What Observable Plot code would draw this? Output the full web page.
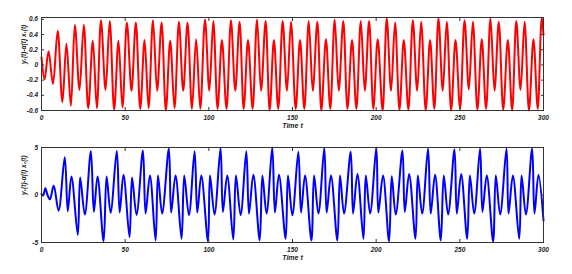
<!DOCTYPE html>
<html><head><meta charset="utf-8">
<script src="https://cdn.jsdelivr.net/npm/d3@7"></script>
<script src="https://cdn.jsdelivr.net/npm/@observablehq/plot@0.6"></script>
<style>
html,body{margin:0;padding:0;background:#fff;}
#chart svg{display:block;}
</style></head><body><div id="chart"></div>
<script>
const xTicks = [0, 50, 100, 150, 200, 250, 300];
const xLabel = "Time t";
const y1Ticks = [-0.6, -0.4, -0.2, 0, 0.2, 0.4, 0.6];
const y2Ticks = [-5, 0, 5];
const y1Label = "y\u2081(t)-\u03b1(t) x\u2081(t)";
const y2Label = "y\u2082(t)-\u03b1(t) x\u2082(t)";

// red series: [time, value] at turning points
const redSeries = [
[0,0.10],[1.8,-0.19],[4.2,0.18],[6.9,-0.25],[9.7,0.45],[12.5,-0.49],[14.9,0.28],[17.6,-0.54],[19.9,0.53],
[22.7,-0.33],[25.3,0.53],[27.9,-0.57],[30.7,0.32],[33.1,-0.57],[35.5,0.59],[38.3,-0.33],[40.8,0.58],
[43.4,-0.59],[46.0,0.32],[48.4,-0.56],[51.0,0.56],[53.8,-0.34],[56.4,0.56],[59.0,-0.58],[61.6,0.33],
[64.0,-0.57],[66.6,0.59],[69.1,-0.34],[71.8,0.56],[74.3,-0.60],[76.9,0.32],[79.5,-0.57],[82.1,0.57],
[84.7,-0.34],[87.3,0.56],[89.9,-0.58],[92.4,0.34],[94.9,-0.58],[97.7,0.60],[100.3,-0.34],[102.7,0.58],
[105.2,-0.58],[107.8,0.33],[110.6,-0.58],[113.2,0.59],[115.8,-0.34],[118.4,0.57],[120.8,-0.58],[123.4,0.33],
[126.2,-0.58],[128.8,0.60],[131.2,-0.34],[134.0,0.58],[136.3,-0.60],[138.9,0.33],[141.5,-0.58],[144.1,0.58],
[146.7,-0.34],[149.1,0.57],[151.9,-0.58],[154.5,0.33],[157.1,-0.58],[159.7,0.58],[162.1,-0.34],[164.9,0.57],
[167.2,-0.60],[170.0,0.34],[172.6,-0.58],[175.2,0.60],[177.6,-0.34],[180.4,0.58],[182.8,-0.58],[185.6,0.33],
[188.2,-0.58],[190.8,0.58],[193.2,-0.34],[195.8,0.58],[198.3,-0.58],[200.9,0.34],[203.9,-0.60],[206.3,0.615],
[208.9,-0.34],[211.3,0.56],[213.9,-0.59],[216.5,0.33],[219.3,-0.59],[221.9,0.59],[224.5,-0.34],[226.9,0.57],
[229.6,-0.60],[232.2,0.33],[234.8,-0.58],[237.2,0.615],[239.8,-0.34],[242.2,0.57],[244.8,-0.60],[247.4,0.33],
[250.2,-0.58],[252.8,0.59],[255.4,-0.32],[257.8,0.57],[260.5,-0.59],[263.1,0.34],[265.7,-0.58],[268.3,0.615],
[270.7,-0.34],[273.3,0.57],[275.9,-0.59],[278.7,0.33],[281.3,-0.60],[283.7,0.58],[286.3,-0.33],[288.7,0.57],
[291.3,-0.60],[294.0,0.34],[296.6,-0.58],[298.9,0.615],[300,0.40]
];

// blue series: [time, value] at turning points
const blueSeries = [
[0,0.1],[1.0,-0.05],[2.3,0.7],[3.6,0.0],[5.1,-0.45],[7.3,1.0],[10.2,-1.65],[13.9,3.97],[15.7,-1.7],
[17.9,1.95],[21.7,-4.2],[23.1,1.84],[25.9,-2.06],[29.5,4.6],[31.3,-1.77],[33.5,1.95],[37.1,-4.86],
[38.9,1.95],[41.3,-1.88],[45.0,4.63],[46.7,-1.84],[49.0,2.12],[52.6,-4.44],[54.1,1.84],[56.8,-2.1],
[60.6,4.68],[62.2,-1.96],[64.8,2.05],[68.2,-4.79],[69.6,2.05],[72.1,-1.96],[76.1,4.89],[77.5,-1.85],
[80.1,2.05],[83.7,-4.61],[85.3,2.05],[88.1,-2.13],[91.5,4.6],[93.1,-1.85],[95.5,2.05],[99.5,-4.86],
[100.7,2.05],[103.4,-2.06],[107.0,4.96],[108.4,-1.78],[111.0,2.05],[114.6,-4.68],[116.2,2.05],[119.0,-2.13],
[122.4,4.6],[124.0,-1.96],[126.6,2.12],[130.4,-4.79],[132.0,2.05],[134.5,-1.96],[137.9,5.0],[139.5,-1.85],
[141.9,2.12],[145.9,-4.61],[147.3,2.05],[149.9,-2.13],[153.5,4.54],[155.1,-1.85],[157.5,2.05],[161.3,-4.79],
[162.9,2.05],[165.5,-1.96],[169.0,4.96],[170.4,-1.85],[173.0,2.05],[176.8,-4.79],[178.4,2.05],[180.8,-1.96],
[184.8,4.54],[186.2,-1.96],[188.8,2.2],[192.4,-4.61],[193.8,2.05],[196.4,-1.96],[200.1,5.0],[201.3,-1.85],
[204.1,2.05],[207.7,-4.9],[209.3,1.98],[211.7,-2.06],[215.7,4.68],[217.1,-1.78],[219.7,2.2],[223.5,-4.61],
[224.9,2.05],[227.5,-1.96],[231.0,4.89],[232.6,-1.96],[235.2,2.12],[238.6,-4.79],[240.4,2.05],[243.0,-2.06],
[246.8,4.78],[248.2,-1.96],[250.8,2.2],[254.4,-4.61],[256.0,2.05],[258.6,-1.96],[262.1,4.89],[263.5,-1.78],
[266.1,2.05],[269.9,-4.9],[271.5,2.05],[274.1,-2.06],[277.9,4.89],[279.1,-1.96],[281.7,2.05],[285.5,-4.61],
[286.9,2.05],[289.5,-2.06],[293.2,4.89],[294.6,-1.96],[297.0,2.12],[300,-2.7]
];

const fmt = d => String(+d.toFixed(2));

function panel({series, color, curve, yDomain, yTicks, yLabel, height, mt, mb}) {
  const data = series.map(([t, v]) => ({t, v}));
  return Plot.plot({
    width: 572, height,
    marginLeft: 41, marginRight: 29, marginTop: mt, marginBottom: mb,
    style: {fontFamily: "'Liberation Sans', Arial, sans-serif", fontSize: "6.5px", fontWeight: "bold", fontStyle: "italic", color: "#222", background: "#fff", overflow: "visible"},
    x: {domain: [0, 300]},
    y: {domain: yDomain},
    marks: [
      Plot.line(data, {x: "t", y: "v", stroke: color, strokeWidth: 2, curve}),
      Plot.frame({stroke: "#333", strokeWidth: 1}),
      Plot.axisX(xTicks, {anchor: "bottom", label: null, tickSize: -3, tickPadding: 8, tickFormat: fmt, stroke: "#333"}),
      Plot.axisX(xTicks, {anchor: "top", label: null, tickSize: -3, tickFormat: () => "", stroke: "#333"}),
      Plot.axisY(yTicks, {anchor: "left", label: null, tickSize: -3, tickPadding: 6.5, tickFormat: fmt, stroke: "#333"}),
      Plot.axisY(yTicks, {anchor: "right", label: null, tickSize: -3, tickFormat: () => "", stroke: "#333"}),
      Plot.text([xLabel], {text: d => d, frameAnchor: "bottom", dy: 17, fontSize: 7, fontWeight: "bold", fontStyle: "italic", fill: "#222"}),
      Plot.text([yLabel], {text: d => d, frameAnchor: "left", rotate: -90, dx: -18, fontSize: 6.5, fontWeight: "bold", fontStyle: "italic", fill: "#222"})
    ]
  });
}

const chart = document.getElementById("chart");
chart.append(panel({series: redSeries, color: "#ff0000", curve: "monotone-x", yDomain: [-0.6, 0.625], yTicks: y1Ticks, yLabel: y1Label, height: 135, mt: 17, mb: 25}));
chart.append(panel({series: blueSeries, color: "#0000ff", curve: "catmull-rom", yDomain: [-5, 5], yTicks: y2Ticks, yLabel: y2Label, height: 139, mt: 12, mb: 32}));
</script>
</body></html>
